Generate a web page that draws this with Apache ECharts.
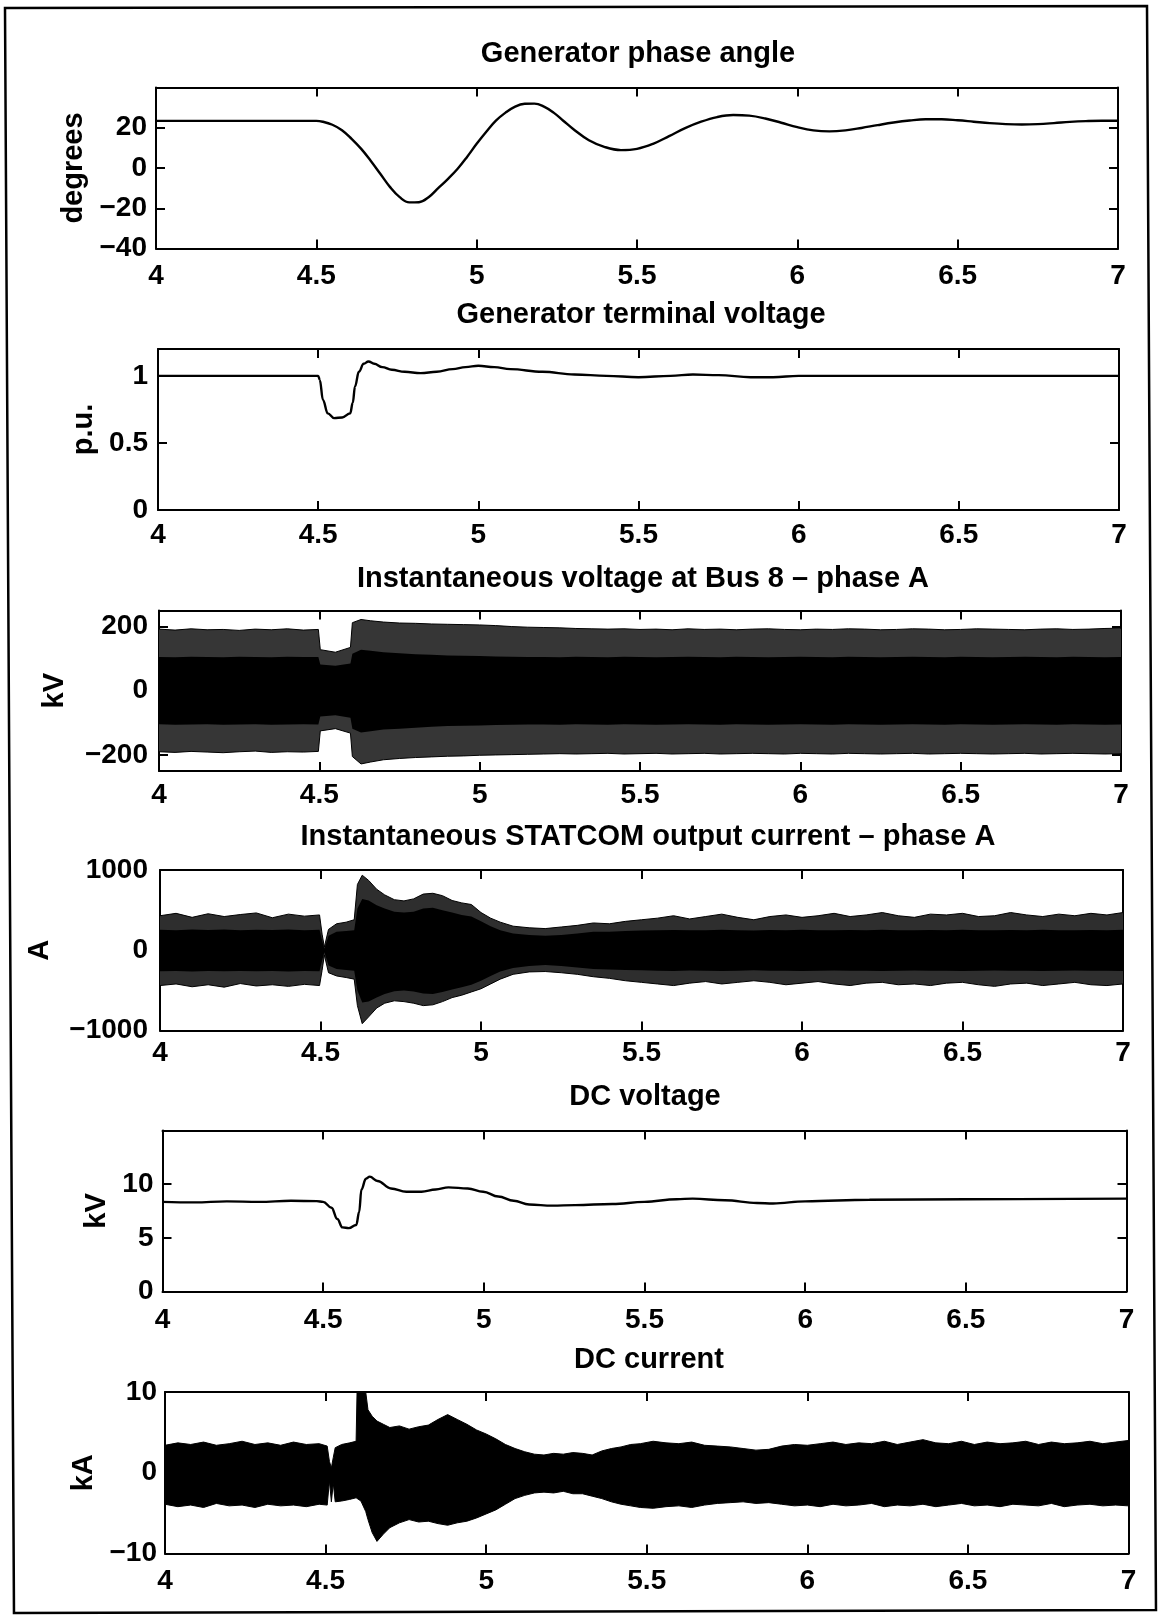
<!DOCTYPE html>
<html>
<head>
<meta charset="utf-8">
<script src="https://cdn.jsdelivr.net/npm/echarts@6/dist/echarts.min.js"></script>
<style>
  html, body { margin: 0; padding: 0; background: #fff; }
  #chart { width: 1159px; height: 1615px; }
</style>
</head>
<body>
<div id="chart"></div>
<script>
// ---- data ----
// 1) generator phase angle (degrees)
const angleT = [4.0,4.5,4.52,4.55,4.58,4.61,4.64,4.67,4.70,4.73,4.76,4.79,4.82,4.85,4.88,4.91,4.94,4.97,5.00,5.03,5.06,5.09,5.12,5.15,5.18,5.21,5.24,5.27,5.30,5.35,5.40,5.45,5.50,5.55,5.60,5.65,5.70,5.75,5.80,5.85,5.90,5.95,6.00,6.05,6.10,6.15,6.20,6.25,6.30,6.35,6.40,6.45,6.50,6.55,6.60,6.65,6.70,6.75,6.80,6.85,6.90,6.95,7.00];
const angleV = [23.4,23.4,23.0,21.5,18.8,14.5,9.5,3.5,-3,-9.5,-14.5,-17.1,-17,-14.5,-10,-5.5,-0.5,5.5,12,18,23.5,27.5,30.5,31.9,32,30.5,27.5,23.5,19.5,13.8,10.4,8.9,9.5,12,15.8,19.8,23,25.3,26.3,26,24.6,22.5,20.3,18.7,18.2,18.7,19.9,21.3,22.6,23.6,24.2,24.2,23.7,23,22.3,21.8,21.6,21.8,22.3,22.9,23.3,23.5,23.5];

// 2) generator terminal voltage (p.u.)
const termT = [4.0,4.5,4.505,4.515,4.53,4.55,4.575,4.6,4.608,4.615,4.627,4.642,4.657,4.675,4.70,4.73,4.77,4.82,4.87,4.92,4.96,5.0,5.05,5.1,5.2,5.3,5.4,5.5,5.6,5.67,5.75,5.85,5.92,6.0,6.2,6.5,7.0];
const termV = [1.0,1.0,0.97,0.82,0.72,0.685,0.69,0.72,0.8,0.92,1.03,1.09,1.107,1.09,1.065,1.045,1.03,1.02,1.03,1.05,1.065,1.075,1.065,1.05,1.03,1.01,1.0,0.99,1.0,1.01,1.005,0.99,0.99,1.0,1.0,1.0,1.0];

// 3) bus 8 phase A voltage (kV): envelope of the 60 Hz wave
const busT = [4.00,4.05,4.10,4.15,4.20,4.25,4.30,4.35,4.40,4.45,4.497,4.503,4.55,4.597,4.603,4.63,4.66,4.70,4.75,4.80,4.85,4.90,4.95,5.00,5.05,5.10,5.15,5.20,5.25,5.30,5.35,5.40,5.45,5.50,5.55,5.60,5.65,5.70,5.75,5.80,5.85,5.90,5.95,6.00,6.05,6.10,6.15,6.20,6.25,6.30,6.35,6.40,6.45,6.50,6.55,6.60,6.65,6.70,6.75,6.80,6.85,6.90,6.95,7.00];
const busPeakHi = [192,189,193,190,191,188,192,190,193,189,191,128,120,135,212,222,218,214,211,210,208,207,206,205,203,200,198,197,196,194,193,192,193,191,192,190,193,191,192,190,192,193,191,190,192,191,193,192,190,191,193,192,190,191,193,192,191,190,192,193,191,192,194,195];
const busPeakLo = [-190,-192,-189,-191,-193,-190,-188,-192,-190,-191,-189,-125,-118,-132,-205,-228,-222,-215,-211,-208,-206,-204,-203,-201,-200,-199,-198,-197,-196,-197,-196,-195,-197,-196,-195,-197,-196,-195,-197,-196,-195,-196,-197,-195,-196,-197,-195,-196,-197,-196,-195,-197,-196,-195,-196,-197,-196,-195,-197,-196,-195,-196,-197,-196];
const busCoreHi = [105,104,106,105,104,106,105,104,106,105,105,82,78,85,115,128,125,120,117,114,112,110,109,108,107,106,105,105,104,106,105,104,106,105,104,105,106,105,104,106,105,104,105,106,105,104,106,105,104,105,106,105,104,106,105,104,105,106,105,104,106,105,104,105];
const busCoreLo = [-104,-106,-105,-104,-106,-105,-104,-106,-105,-104,-105,-80,-76,-84,-118,-130,-126,-121,-118,-115,-112,-110,-109,-108,-107,-106,-105,-105,-106,-104,-105,-106,-104,-105,-106,-105,-104,-105,-106,-104,-105,-106,-105,-104,-105,-106,-104,-105,-106,-105,-104,-105,-106,-104,-105,-106,-105,-104,-105,-106,-104,-105,-106,-105];

// 4) STATCOM output current phase A (A): envelope
const statT = [4.00,4.05,4.10,4.15,4.20,4.25,4.30,4.35,4.40,4.45,4.497,4.505,4.512,4.525,4.55,4.58,4.605,4.615,4.63,4.65,4.675,4.70,4.73,4.76,4.79,4.82,4.85,4.88,4.91,4.94,4.97,5.00,5.03,5.06,5.10,5.15,5.20,5.25,5.30,5.35,5.40,5.45,5.50,5.55,5.60,5.65,5.70,5.75,5.80,5.85,5.90,5.95,6.00,6.05,6.10,6.15,6.20,6.25,6.30,6.35,6.40,6.45,6.50,6.55,6.60,6.65,6.70,6.75,6.80,6.85,6.90,6.95,7.00];
const statPeakHi = [430,460,410,455,420,445,465,405,450,425,440,200,40,260,330,350,380,820,935,870,760,690,630,615,640,700,710,680,620,590,570,470,400,350,300,280,270,290,310,340,330,360,380,400,430,390,420,450,410,380,420,440,410,430,460,420,440,470,430,410,450,440,460,420,430,470,440,420,450,430,460,440,470];
const statPeakLo = [-440,-420,-455,-430,-460,-415,-445,-430,-450,-425,-440,-250,-60,-280,-320,-340,-360,-690,-915,-830,-720,-660,-630,-640,-660,-690,-680,-640,-590,-560,-520,-480,-420,-360,-300,-270,-265,-280,-300,-330,-350,-380,-400,-420,-440,-410,-390,-420,-400,-380,-400,-430,-410,-390,-420,-440,-410,-400,-430,-420,-440,-410,-400,-430,-450,-420,-410,-440,-420,-400,-430,-440,-420];
const statCoreHi = [255,250,260,252,258,250,256,252,258,250,255,120,20,180,230,240,250,520,640,620,560,520,480,470,480,520,530,500,470,440,420,360,300,250,210,190,180,190,210,230,230,240,245,250,252,248,250,255,250,246,252,250,254,250,248,252,250,255,250,248,252,250,254,250,248,252,250,255,250,248,252,250,254];
const statCoreLo = [-262,-258,-265,-260,-263,-258,-262,-260,-265,-258,-262,-130,-25,-190,-235,-245,-255,-500,-650,-640,-590,-545,-510,-500,-515,-540,-545,-520,-490,-460,-430,-380,-320,-265,-220,-195,-185,-195,-215,-235,-240,-245,-250,-255,-258,-252,-255,-260,-255,-250,-256,-255,-258,-254,-252,-256,-255,-260,-254,-252,-256,-255,-258,-254,-252,-256,-255,-260,-254,-252,-256,-255,-258];

// 5) DC voltage (kV)
const dcvT = [4.0,4.1,4.2,4.3,4.4,4.48,4.5,4.526,4.544,4.56,4.58,4.603,4.612,4.619,4.633,4.645,4.669,4.711,4.759,4.806,4.85,4.89,4.95,4.998,5.045,5.093,5.141,5.213,5.284,5.4,5.5,5.6,5.65,5.75,5.85,5.9,6.0,6.2,6.5,7.0];
const dcvV = [8.35,8.3,8.4,8.35,8.45,8.42,8.35,7.8,6.75,5.97,5.9,6.2,7.4,9.5,10.5,10.7,10.3,9.6,9.3,9.3,9.5,9.7,9.6,9.3,8.85,8.45,8.1,8.0,8.05,8.15,8.35,8.6,8.65,8.5,8.25,8.2,8.4,8.55,8.6,8.65];

// 6) DC current (kA): envelope of the ripple
const dciT = [4.00,4.04,4.08,4.12,4.16,4.20,4.24,4.28,4.32,4.36,4.40,4.44,4.48,
  4.505,4.512,4.518,4.524,4.53,4.55,4.575,4.595,4.598,4.61,4.625,4.632,4.645,4.66,4.68,
  4.70,4.73,4.76,4.79,4.82,4.85,4.88,4.91,4.94,4.97,5.00,5.03,5.06,5.09,5.12,5.15,5.18,5.21,5.24,5.27,5.30,5.33,5.36,5.39,5.42,5.45,5.48,
  5.52,5.56,5.60,5.64,5.68,5.72,5.76,5.80,5.84,5.88,5.92,5.96,6.00,6.04,6.08,6.12,6.16,6.20,6.24,6.28,6.32,6.36,6.40,6.44,6.48,6.52,6.56,6.60,6.64,6.68,6.72,6.76,6.80,6.84,6.88,6.92,6.96,7.00];
const dciHi = [3.4,3.7,3.5,3.8,3.4,3.6,3.9,3.5,3.7,3.4,3.8,3.5,3.6,
  3.3,1.4,0.6,1.9,3.1,3.5,3.7,3.9,10,10,10,7.8,7.0,6.4,6.0,
  5.6,5.8,5.4,5.7,5.9,6.6,7.2,6.6,6.0,5.3,4.8,4.2,3.5,3.0,2.6,2.3,2.2,2.4,2.3,2.5,2.4,2.2,2.7,3.0,3.2,3.5,3.6,
  3.9,3.7,3.6,3.8,3.4,3.3,3.2,3.0,2.8,2.9,3.3,3.5,3.4,3.6,3.8,3.5,3.7,3.6,3.9,3.5,3.8,4.1,3.7,3.6,3.9,3.5,3.8,3.6,3.7,3.9,3.5,3.8,3.6,3.7,3.9,3.6,3.8,4.0];
const dciLo = [-3.9,-4.2,-4.0,-4.3,-3.8,-4.1,-4.0,-4.3,-3.9,-4.1,-4.0,-4.2,-3.9,
  -4.0,-1.0,-3.6,-1.3,-3.6,-3.5,-3.3,-3.1,-3.2,-3.5,-4.8,-5.8,-7.4,-8.5,-7.6,
  -6.8,-6.2,-5.8,-6.1,-6.0,-6.3,-6.5,-6.2,-6.0,-5.6,-5.1,-4.6,-3.9,-3.2,-2.8,-2.5,-2.4,-2.5,-2.3,-2.6,-2.6,-2.9,-3.2,-3.6,-3.9,-4.1,-4.3,
  -4.4,-4.2,-4.1,-4.3,-4.0,-3.8,-3.7,-3.6,-3.8,-3.7,-3.9,-4.1,-4.0,-4.2,-3.9,-4.1,-4.0,-3.8,-4.2,-4.0,-4.1,-3.9,-4.2,-4.0,-3.8,-4.1,-4.0,-4.2,-3.9,-4.0,-4.1,-3.8,-4.2,-4.0,-3.9,-4.1,-4.0,-4.1];

// axis ticks
const xTicks = { min: 4, max: 7, step: 0.5 };
const yTicksAngle = [-40, -20, 0, 20];
const yTicksTerm = [0, 0.5, 1];
const yTicksBus = [-200, 0, 200];
const yTicksStat = [-1000, 0, 1000];
const yTicksDcv = [0, 5, 10];
const yTicksDci = [-10, 0, 10];

// ---- layout ----
const FONT = '"Liberation Sans", Arial, Helvetica, sans-serif';
const FS = 28;

const panels = [
  { title: 'Generator phase angle', tx: 633, ty: 49, left: 156, top: 87.5, width: 962, height: 161,
    yMin: -40, yMax: 40, yTicks: yTicksAngle, yName: 'degrees', nameGap: 64, yMargin: 9, xMargin: 14 },
  { title: 'Generator terminal voltage', tx: 636, ty: 310, left: 158, top: 349, width: 961, height: 161,
    yMin: 0, yMax: 1.2, yTicks: yTicksTerm, yName: 'p.u.', nameGap: 55, yMargin: 10, xMargin: 11 },
  { title: 'Instantaneous voltage at Bus 8 \u2013 phase A', tx: 638, ty: 574, left: 159, top: 610.5, width: 962, height: 160.5,
    yMin: -250, yMax: 250, yTicks: yTicksBus, yName: 'kV', nameGap: 90, yMargin: 11, xMargin: 10, seam: 6 },
  { title: 'Instantaneous STATCOM output current \u2013 phase A', tx: 643, ty: 832, left: 160, top: 870, width: 963, height: 160.5,
    yMin: -1000, yMax: 1000, yTicks: yTicksStat, yName: 'A', nameGap: 106, yMargin: 12, xMargin: 9, seam: 20 },
  { title: 'DC voltage', tx: 640, ty: 1092, left: 162.5, top: 1130.5, width: 964, height: 161,
    yMin: 0, yMax: 15, yTicks: yTicksDcv, yName: 'kV', nameGap: 49, yMargin: 9, xMargin: 15 },
  { title: 'DC current', tx: 644, ty: 1355, left: 165, top: 1392, width: 963.5, height: 161.5,
    yMin: -10, yMax: 10, yTicks: yTicksDci, yName: 'kA', nameGap: 67, yMargin: 8, xMargin: 14, seam: 0.25 }
];

function pairs(t, v) { return t.map((x, i) => [x, v[i]]); }
function minus(v) { return String(v).replace('-', '\u2212'); }

const textBase = { color: '#000', fontFamily: FONT, fontSize: FS, fontWeight: 'bold' };
const bigText = Object.assign({}, textBase, { fontSize: 29 });
const axisLine = { show: true, onZero: false, lineStyle: { color: '#000', width: 2 } };

const grid = [], xAxis = [], yAxis = [], title = [], series = [];

panels.forEach((p, i) => {
  grid.push({ left: p.left, top: p.top, width: p.width, height: p.height, outerBoundsMode: 'none' });
  title.push({ text: p.title, left: p.tx, top: p.ty, textAlign: 'center', textVerticalAlign: 'middle',
    textStyle: bigText });
  const xBase = { type: 'value', gridIndex: i, min: xTicks.min, max: xTicks.max, interval: xTicks.step,
    axisLine, splitLine: { show: false },
    axisTick: { inside: true, length: 9, lineStyle: { color: '#000', width: 2 } } };
  xAxis.push(Object.assign({}, xBase, { position: 'bottom',
    axisLabel: Object.assign({ margin: p.xMargin }, textBase) }));
  xAxis.push(Object.assign({}, xBase, { position: 'top', axisLabel: { show: false } }));
  const yBase = { type: 'value', gridIndex: i, min: p.yMin, max: p.yMax, axisLine, splitLine: { show: false },
    axisTick: { inside: true, length: 9, customValues: p.yTicks, lineStyle: { color: '#000', width: 2 } } };
  yAxis.push(Object.assign({}, yBase, { position: 'left', name: p.yName, nameLocation: 'middle', nameGap: p.nameGap,
    nameTextStyle: bigText,
    axisLabel: Object.assign({ margin: p.yMargin, customValues: p.yTicks, formatter: minus }, textBase) }));
  yAxis.push(Object.assign({}, yBase, { position: 'right', axisLabel: { show: false } }));
});

function curve(i, t, v, mono) {
  const s = { type: 'line', xAxisIndex: 2 * i, yAxisIndex: 2 * i, data: pairs(t, v), symbol: 'none',
    smooth: 0.4, lineStyle: { color: '#000', width: 2.4 }, clip: true, silent: true };
  if (mono) s.smoothMonotone = 'x';
  return s;
}
// filled envelope; the two halves overlap slightly across zero so no seam shows
function band(i, t, v, fill, edge, upper) {
  const seam = panels[i].seam;
  return { type: 'line', xAxisIndex: 2 * i, yAxisIndex: 2 * i, data: pairs(t, v), symbol: 'none',
    lineStyle: { color: '#000', width: edge },
    areaStyle: { color: fill, opacity: 1, origin: upper ? -seam : seam },
    clip: true, silent: true };
}

series.push(curve(0, angleT, angleV, false));
series.push(curve(1, termT, termV, true));
series.push(band(2, busT, busPeakHi, '#363636', 1, true));
series.push(band(2, busT, busPeakLo, '#363636', 1, false));
series.push(band(2, busT, busCoreHi, '#000', 0, true));
series.push(band(2, busT, busCoreLo, '#000', 0, false));
series.push(band(3, statT, statPeakHi, '#2e2e2e', 1, true));
series.push(band(3, statT, statPeakLo, '#2e2e2e', 1, false));
series.push(band(3, statT, statCoreHi, '#000', 0, true));
series.push(band(3, statT, statCoreLo, '#000', 0, false));
series.push(curve(4, dcvT, dcvV, true));
series.push(band(5, dciT, dciHi, '#000', 1, true));
series.push(band(5, dciT, dciLo, '#000', 1, false));

const chart = echarts.init(document.getElementById('chart'), null, { renderer: 'canvas', width: 1159, height: 1615 });
chart.setOption({
  animation: false,
  backgroundColor: '#fff',
  title, grid, xAxis, yAxis, series,
  graphic: [{
    type: 'polygon', silent: true,
    shape: { points: [[5, 8], [1147, 6], [1156, 1610], [14, 1613]] },
    style: { fill: 'none', stroke: '#000', lineWidth: 2.5 }
  }]
});
</script>
</body>
</html>
